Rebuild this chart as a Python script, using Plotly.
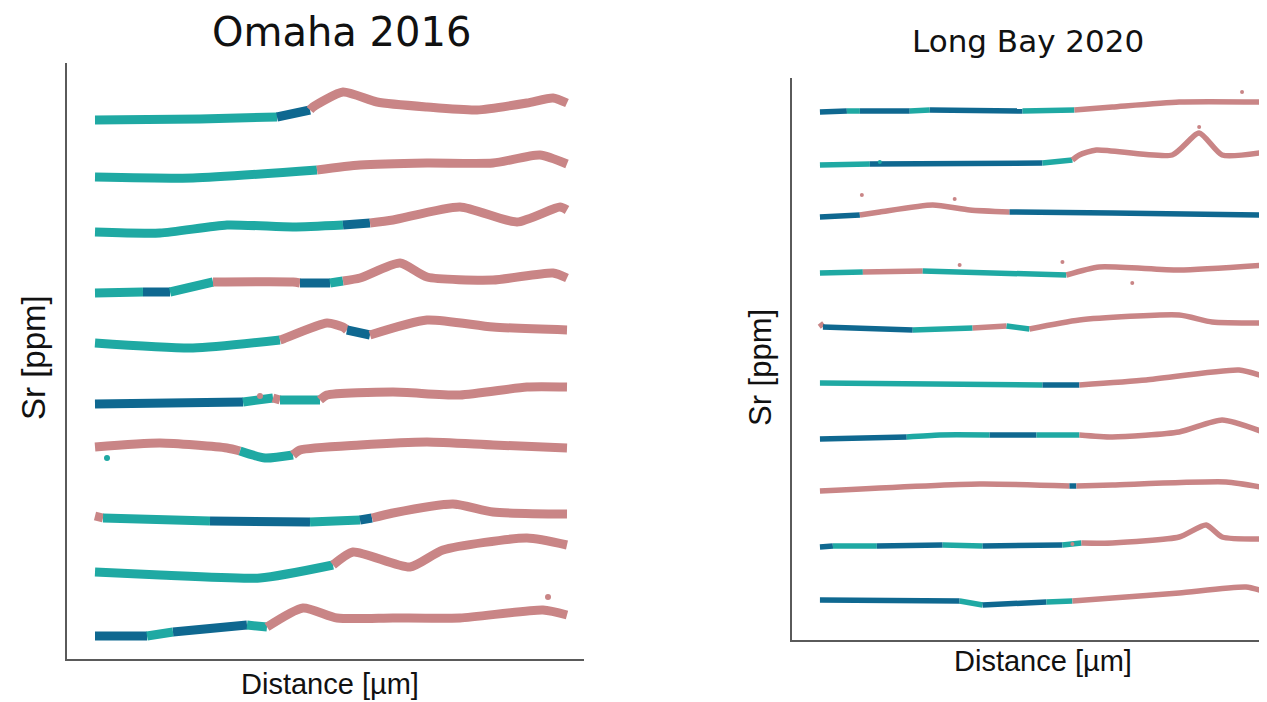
import plotly.graph_objects as go

# page is rendered with an 8px body margin, so the figure is sized to fit the window
OFF = 8
W, H = 1267 - OFF, 702 - OFF
TEAL, DARK, PINK = "#1fa9a3", "#0f6890", "#c98586"
CMAP = {"T": TEAL, "D": DARK, "P": PINK}

# ---------------- Omaha 2016 profiles (distance, Sr, colour per interval) ----------------
om1_x = [0, 105, 182, 215, 218, 248, 282, 332, 382, 432, 458, 472]
om1_y = [538, 539, 541, 548, 551, 566, 556, 551, 548, 555, 560, 555]
om1_c = ["T", "T", "D", "P", "P", "P", "P", "P", "P", "P", "P"]

om2_x = [0, 98, 222, 265, 332, 398, 445, 472]
om2_y = [481, 480, 488, 493, 495, 495, 503, 494]
om2_c = ["T", "T", "P", "P", "P", "P", "P"]

om3_x = [0, 65, 132, 198, 248, 275, 298, 365, 422, 465, 472]
om3_y = [426, 425, 433, 431, 433, 435, 438, 451, 436, 451, 448]
om3_c = ["T", "T", "T", "T", "D", "P", "P", "P", "P", "P"]

om4_x = [0, 48, 75, 118, 198, 205, 235, 248, 265, 305, 332, 398, 458, 472]
om4_y = [365, 366, 366, 376, 376, 375, 375, 377, 380, 395, 381, 378, 385, 380]
om4_c = ["T", "D", "T", "P", "P", "D", "T", "P", "P", "P", "P", "P", "P"]

om5_x = [0, 98, 185, 188, 232, 248, 252, 275, 332, 398, 472]
om5_y = [315, 310, 318, 319, 335, 331, 328, 323, 338, 331, 328]
om5_c = ["T", "T", "P", "P", "P", "P", "D", "P", "P", "P"]

om6_x = [0, 148, 178, 185, 225, 232, 298, 365, 432, 472]
om6_y = [254, 256, 260, 258, 258, 263, 266, 263, 271, 271]
om6_c = ["D", "T", "P", "T", "P", "P", "P", "P", "P"]

om7_x = [0, 65, 132, 145, 170, 198, 205, 265, 332, 398, 472]
om7_y = [211, 215, 210, 207, 200, 203, 208, 213, 216, 213, 210]
om7_c = ["P", "P", "P", "T", "T", "P", "P", "P", "P", "P"]

om8_x = [0, 8, 115, 215, 265, 277, 298, 358, 398, 472]
om8_y = [142, 140, 137, 136, 138, 140, 145, 154, 146, 144]
om8_c = ["P", "T", "D", "T", "D", "P", "P", "P", "P"]

om9_x = [0, 65, 165, 238, 258, 315, 348, 432, 472]
om9_y = [86, 83, 80, 93, 106, 91, 108, 120, 113]
om9_c = ["T", "T", "T", "P", "P", "P", "P", "P"]

om10_x = [0, 52, 78, 152, 172, 208, 242, 298, 365, 448, 472]
om10_y = [22, 22, 26, 33, 31, 50, 40, 40, 40, 48, 43]
om10_c = ["D", "T", "D", "T", "P", "P", "P", "P", "P", "P"]

om_out_x = [453, 165, 12]
om_out_y = [61, 262, 200]
om_out_c = ["P", "P", "T"]

# ---------------- Long Bay 2020 profiles ----------------
lb1_x = [0, 27, 40, 90, 110, 203, 255, 293, 360, 447]
lb1_y = [528, 529, 529, 529, 530, 529, 530, 533, 538, 538]
lb1_c = ["D", "T", "D", "T", "D", "T", "P", "P", "P"]

lb2_x = [0, 50, 223, 253, 260, 277, 353, 380, 403, 447]
lb2_y = [475, 476, 477, 480, 485, 490, 485, 507, 485, 488]
lb2_c = ["T", "D", "T", "P", "P", "P", "P", "P", "P"]

lb3_x = [0, 40, 60, 113, 150, 190, 293, 447]
lb3_y = [423, 425, 428, 435, 430, 428, 427, 425]
lb3_c = ["D", "P", "P", "P", "P", "D", "D"]

lb4_x = [0, 43, 103, 247, 280, 360, 447]
lb4_y = [367, 368, 369, 365, 373, 370, 375]
lb4_c = ["T", "P", "T", "P", "P", "P"]

lb5_x = [0, 3, 93, 153, 187, 210, 260, 360, 393, 447]
lb5_y = [317, 313, 310, 312, 314, 311, 320, 325, 318, 317]
lb5_c = ["P", "D", "T", "P", "T", "P", "P", "P", "P"]

lb6_x = [0, 223, 260, 327, 420, 447]
lb6_y = [257, 255, 255, 260, 270, 263]
lb6_c = ["T", "D", "P", "P", "P"]

lb7_x = [0, 87, 120, 170, 217, 260, 293, 360, 403, 447]
lb7_y = [201, 203, 205, 205, 205, 205, 203, 208, 220, 207]
lb7_c = ["D", "T", "T", "D", "T", "P", "P", "P", "P"]

lb8_x = [0, 160, 250, 257, 293, 407, 447]
lb8_y = [149, 156, 154, 154, 155, 158, 152]
lb8_c = ["P", "P", "D", "P", "P", "P"]

lb9_x = [0, 13, 57, 123, 163, 243, 262, 293, 360, 387, 403, 447]
lb9_y = [93, 94, 94, 95, 94, 95, 97, 97, 103, 115, 103, 101]
lb9_c = ["D", "T", "D", "T", "D", "T", "P", "P", "P", "P", "P"]

lb10_x = [0, 140, 163, 227, 253, 293, 360, 427, 447]
lb10_y = [40, 39, 35, 38, 39, 42, 47, 53, 48]
lb10_c = ["D", "T", "D", "T", "P", "P", "P", "P"]

lb_out_x = [423, 380, 42, 135, 243, 60, 313, 140, 253]
lb_out_y = [548, 513, 445, 441, 378, 478, 357, 375, 96]
lb_out_c = ["P", "P", "P", "P", "P", "T", "P", "P", "P"]

omaha = [(om1_x, om1_y, om1_c), (om2_x, om2_y, om2_c), (om3_x, om3_y, om3_c),
         (om4_x, om4_y, om4_c), (om5_x, om5_y, om5_c), (om6_x, om6_y, om6_c),
         (om7_x, om7_y, om7_c), (om8_x, om8_y, om8_c), (om9_x, om9_y, om9_c),
         (om10_x, om10_y, om10_c)]
longbay = [(lb1_x, lb1_y, lb1_c), (lb2_x, lb2_y, lb2_c), (lb3_x, lb3_y, lb3_c),
           (lb4_x, lb4_y, lb4_c), (lb5_x, lb5_y, lb5_c), (lb6_x, lb6_y, lb6_c),
           (lb7_x, lb7_y, lb7_c), (lb8_x, lb8_y, lb8_c), (lb9_x, lb9_y, lb9_c),
           (lb10_x, lb10_y, lb10_c)]


def fx(px):
    return (px - OFF) / W


def fy(py):
    return 1 - (py - OFF) / H


fig = go.Figure()


def add_profile(xs, ys, cs, xa, ya, width):
    # group consecutive intervals of the same colour
    start = 0
    for i in range(1, len(cs) + 1):
        if i == len(cs) or cs[i] != cs[start]:
            fig.add_trace(go.Scatter(
                x=xs[start:i + 1], y=ys[start:i + 1], mode="lines",
                line=dict(color=CMAP[cs[start]], width=width, shape="spline", smoothing=0.6),
                xaxis=xa, yaxis=ya, showlegend=False, hoverinfo="skip"))
            start = i


for xs, ys, cs in omaha:
    add_profile(xs, ys, cs, "x", "y", 9)
fig.add_trace(go.Scatter(x=om_out_x, y=om_out_y, mode="markers",
                         marker=dict(color=[CMAP[c] for c in om_out_c], size=6),
                         xaxis="x", yaxis="y", showlegend=False, hoverinfo="skip"))

for xs, ys, cs in longbay:
    add_profile(xs, ys, cs, "x2", "y2", 5.5)
fig.add_trace(go.Scatter(x=lb_out_x, y=lb_out_y, mode="markers",
                         marker=dict(color=[CMAP[c] for c in lb_out_c], size=4),
                         xaxis="x2", yaxis="y2", showlegend=False, hoverinfo="skip"))

ax_common = dict(showgrid=False, zeroline=False, showticklabels=False, ticks="",
                 showline=True, linecolor="#5a5a5a", linewidth=2, fixedrange=True)

fig.update_layout(
    width=W, height=H, margin=dict(l=0, r=0, t=0, b=0),
    paper_bgcolor="white", plot_bgcolor="white",
    xaxis=dict(domain=[fx(67), fx(584)], range=[-28, 489], anchor="y", **ax_common),
    yaxis=dict(domain=[fy(659), fy(63)], range=[-1, 595], anchor="x", **ax_common),
    xaxis2=dict(domain=[fx(792), 1.0], range=[-28, 448], anchor="y2", **ax_common),
    yaxis2=dict(domain=[fy(640), fy(78)], range=[0, 562], anchor="x2", **ax_common),
)

TITLE_FONT = "DejaVu Sans, sans-serif"
LABEL_FONT = "Liberation Sans, Arial, sans-serif"
ann = [
    dict(text="Omaha 2016", x=341, y=32, size=40, angle=0, fam=TITLE_FONT),
    dict(text="Long Bay 2020", x=1028, y=41, size=31, angle=0, fam=TITLE_FONT),
    dict(text="Sr [ppm]", x=33, y=358, size=33, angle=-90, fam=LABEL_FONT),
    dict(text="Sr [ppm]", x=760, y=368, size=31, angle=-90, fam=LABEL_FONT),
    dict(text="Distance [µm]", x=330, y=684, size=29, angle=0, fam=LABEL_FONT),
    dict(text="Distance [µm]", x=1043, y=661, size=29, angle=0, fam=LABEL_FONT),
]
for a in ann:
    fig.add_annotation(text=a["text"], x=fx(a["x"]), y=fy(a["y"]), xref="paper", yref="paper",
                       xanchor="center", yanchor="middle", showarrow=False,
                       textangle=a["angle"], font=dict(size=a["size"], family=a["fam"], color="#111"))

fig.write_html("out.html")
